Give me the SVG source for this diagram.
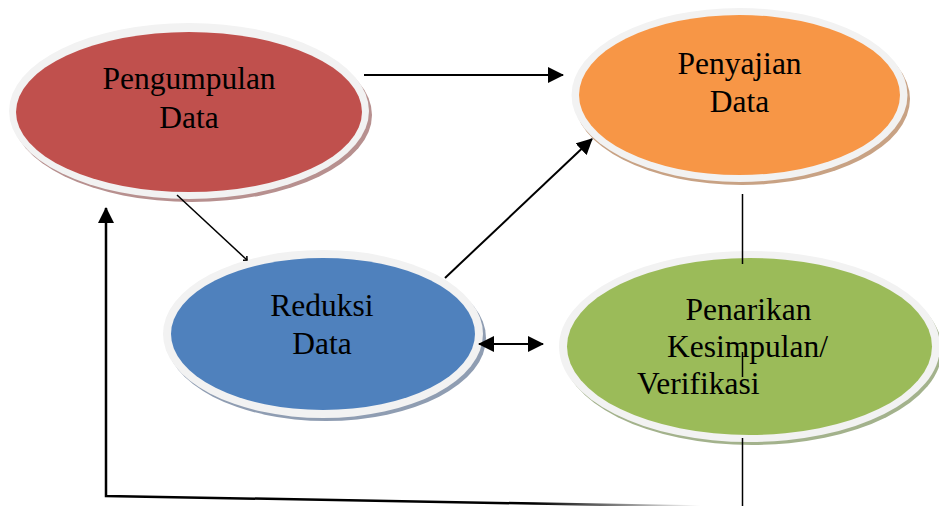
<svg xmlns="http://www.w3.org/2000/svg" width="939" height="506" viewBox="0 0 939 506">
<defs>
<style>
.ring{fill:#f2f2f2;}
.lbl{font-family:"Liberation Serif","Times New Roman",serif;font-size:31.5px;fill:#000;text-anchor:middle;}
.ln{stroke:#000;stroke-width:2;fill:none;}
.thin{stroke:#000;stroke-width:1.5;fill:none;}
</style>
<marker id="ah" markerWidth="8" markerHeight="8" refX="7.5" refY="4" orient="auto" markerUnits="strokeWidth">
<path d="M0,0 L8,4 L0,8 Z" fill="#000"/>
</marker>
<marker id="ahs" markerWidth="8" markerHeight="8" refX="0.5" refY="4" orient="auto" markerUnits="strokeWidth">
<path d="M8,0 L0,4 L8,8 Z" fill="#000"/>
</marker>
<marker id="tick" markerWidth="6" markerHeight="6" refX="3" refY="3" orient="auto" markerUnits="userSpaceOnUse">
<path d="M0,0 L3,3 L0,6" fill="none" stroke="#000" stroke-width="1.5"/>
</marker>
<linearGradient id="fade" gradientUnits="userSpaceOnUse" x1="106" y1="0" x2="700" y2="0">
<stop offset="0" stop-color="#000"/>
<stop offset="0.72" stop-color="#000"/>
<stop offset="1" stop-color="#fff"/>
</linearGradient>
</defs>
<rect width="939" height="506" fill="#fff"/>

<g id="pengumpulan">
<ellipse cx="192" cy="115" rx="180" ry="87" fill="#b7908f"/>
<ellipse class="ring" cx="189" cy="111" rx="180" ry="88"/>
<ellipse cx="189" cy="112" rx="173" ry="80" fill="#c0504d"/>
<text class="lbl" x="189" y="89">Pengumpulan</text>
<text class="lbl" x="189" y="128">Data</text>
</g>

<g id="penyajian">
<ellipse cx="742" cy="99" rx="168" ry="86" fill="#c8a284"/>
<ellipse class="ring" cx="739.5" cy="95" rx="168" ry="87"/>
<ellipse cx="739.5" cy="95" rx="160.5" ry="80" fill="#f79646"/>
<text class="lbl" x="739.5" y="74">Penyajian</text>
<text class="lbl" x="739.5" y="112">Data</text>
</g>

<g id="reduksi">
<ellipse cx="326" cy="338" rx="160" ry="83" fill="#8f9db2"/>
<ellipse class="ring" cx="323" cy="334" rx="160" ry="84"/>
<ellipse cx="323" cy="334" rx="152" ry="76" fill="#4f81bd"/>
<text class="lbl" x="322" y="316">Reduksi</text>
<text class="lbl" x="322" y="354">Data</text>
</g>

<g id="penarikan">
<ellipse cx="752" cy="350" rx="190" ry="95" fill="#a3b28c"/>
<ellipse class="ring" cx="749.5" cy="346.5" rx="190.5" ry="95.5"/>
<ellipse cx="749.5" cy="346.5" rx="182.5" ry="88.5" fill="#9bbb59"/>
<text class="lbl" x="748.5" y="320">Penarikan</text>
<text class="lbl" x="747.5" y="357">Kesimpulan/</text>
<text class="lbl" x="637" y="394" style="text-anchor:start">Verifikasi</text>
</g>

<g id="connectors">
<line class="ln" x1="364" y1="75" x2="563" y2="75" marker-end="url(#ah)"/>
<line class="thin" x1="177" y1="195" x2="247" y2="260" marker-end="url(#tick)"/>
<line class="ln" x1="445" y1="278" x2="592" y2="139" marker-end="url(#ah)"/>
<line class="ln" x1="479" y1="344" x2="543" y2="344" marker-start="url(#ahs)" marker-end="url(#ah)"/>
<line class="thin" x1="742.5" y1="194" x2="742.5" y2="264"/>
<line class="thin" x1="742.5" y1="352" x2="742.5" y2="377"/>
<line class="thin" x1="742.5" y1="438" x2="742.5" y2="506"/>
<polyline points="700,506.5 106,496 106,208" fill="none" stroke="url(#fade)" stroke-width="2.5"/>
<line class="ln" x1="106" y1="496" x2="106" y2="208" marker-end="url(#ah)"/>
</g>
</svg>
